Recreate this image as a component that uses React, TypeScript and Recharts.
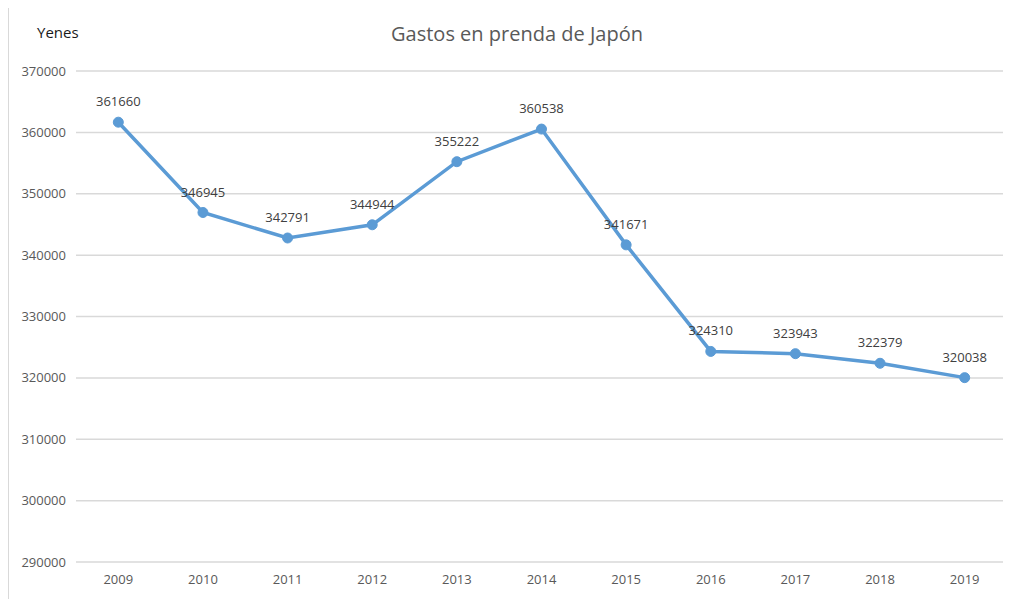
import React from 'react';
import { LineChart, Line, XAxis, YAxis, CartesianGrid, LabelList } from 'recharts';

const years = ['2009', '2010', '2011', '2012', '2013', '2014', '2015', '2016', '2017', '2018', '2019'];
const gastos = [361660, 346945, 342791, 344944, 355222, 360538, 341671, 324310, 323943, 322379, 320038];
const yTicks = [290000, 300000, 310000, 320000, 330000, 340000, 350000, 360000, 370000];

const data = years.map((year, i) => ({ year, value: gastos[i] }));

const FONT = '"Open Sans", "Noto Sans", sans-serif';

export default function App() {
  return (
    <div
      style={{
        position: 'relative',
        width: 1003,
        height: 592,
        marginTop: -1,
        borderTop: '1px solid #d9d9d9',
        borderLeft: '1px solid #d9d9d9',
        background: '#fff',
        fontFamily: FONT,
        overflow: 'hidden',
      }}
    >
      <div style={{ position: 'absolute', left: 28, top: 14, fontSize: 15, color: '#1a1a1a' }}>Yenes</div>
      <div
        style={{
          position: 'absolute',
          left: 0,
          width: 1016,
          top: 12,
          textAlign: 'center',
          fontSize: 20,
          color: '#595959',
        }}
      >
        Gastos en prenda de Japón
      </div>
      <LineChart
        width={1002}
        height={591}
        data={data}
        margin={{ top: 63, right: 4, bottom: 7, left: 0 }}
        style={{ position: 'absolute', left: 0, top: 0 }}
      >
        <CartesianGrid vertical={false} stroke="#d9d9d9" strokeWidth={1.5} />
        <XAxis
          dataKey="year"
          scale="band"
          axisLine={false}
          tickLine={false}
          height={30}
          tickMargin={7}
          tick={{ fill: '#595959', fontSize: 13, fontFamily: FONT }}
        />
        <YAxis
          domain={[290000, 370000]}
          ticks={yTicks}
          axisLine={false}
          tickLine={false}
          width={67}
          tickMargin={4}
          tick={{ fill: '#595959', fontSize: 13, fontFamily: FONT }}
        />
        <Line
          dataKey="value"
          stroke="#5b9bd5"
          strokeWidth={3.5}
          dot={{ r: 5, fill: '#5b9bd5', stroke: '#5b9bd5', strokeWidth: 1 }}
          isAnimationActive={false}
        >
          <LabelList dataKey="value" position="top" offset={16} fill="#404040" fontSize={13} fontFamily={FONT} />
        </Line>
      </LineChart>
    </div>
  );
}
